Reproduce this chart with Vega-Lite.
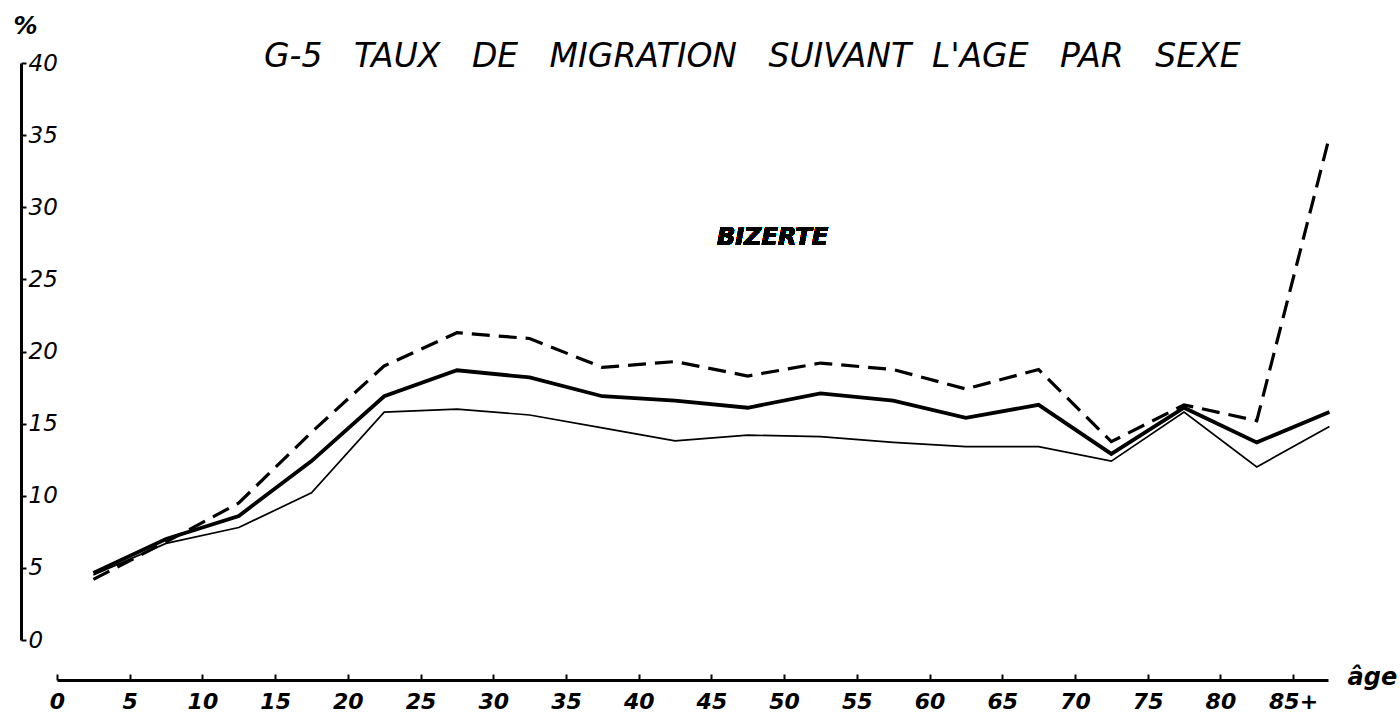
{
  "$schema": "https://vega.github.io/schema/vega-lite/v6.json",
  "autosize": {"type": "none"},
  "width": 1271,
  "height": 577,
  "padding": {"left": 57, "top": 63, "right": 72, "bottom": 73},
  "background": "white",
  "config": {"view": {"stroke": null}},
  "title": {
    "text": "G-5 \u00a0\u00a0TAUX \u00a0\u00a0DE \u00a0\u00a0MIGRATION \u00a0\u00a0SUIVANT \u00a0L'AGE \u00a0\u00a0PAR \u00a0\u00a0SEXE",
    "anchor": "start",
    "dx": 251,
    "dy": 64,
    "font": "DejaVu Sans",
    "fontSize": 33,
    "fontStyle": "italic",
    "fontWeight": "normal",
    "color": "black"
  },
  "data": {"values": [
    {"age": 2.5, "serie": "Femmes", "taux": 4.2},
    {"age": 7.5, "serie": "Femmes", "taux": 6.8},
    {"age": 12.5, "serie": "Femmes", "taux": 9.5},
    {"age": 17.5, "serie": "Femmes", "taux": 14.4},
    {"age": 22.5, "serie": "Femmes", "taux": 19.0},
    {"age": 27.5, "serie": "Femmes", "taux": 21.3},
    {"age": 32.5, "serie": "Femmes", "taux": 20.9},
    {"age": 37.5, "serie": "Femmes", "taux": 18.9},
    {"age": 42.5, "serie": "Femmes", "taux": 19.3},
    {"age": 47.5, "serie": "Femmes", "taux": 18.3},
    {"age": 52.5, "serie": "Femmes", "taux": 19.2},
    {"age": 57.5, "serie": "Femmes", "taux": 18.75},
    {"age": 62.5, "serie": "Femmes", "taux": 17.4},
    {"age": 67.5, "serie": "Femmes", "taux": 18.75},
    {"age": 72.5, "serie": "Femmes", "taux": 13.75},
    {"age": 77.5, "serie": "Femmes", "taux": 16.3},
    {"age": 82.5, "serie": "Femmes", "taux": 15.2},
    {"age": 87.5, "serie": "Femmes", "taux": 34.9},
    {"age": 2.5, "serie": "Hommes", "taux": 4.5},
    {"age": 7.5, "serie": "Hommes", "taux": 6.7},
    {"age": 12.5, "serie": "Hommes", "taux": 7.8},
    {"age": 17.5, "serie": "Hommes", "taux": 10.2},
    {"age": 22.5, "serie": "Hommes", "taux": 15.8},
    {"age": 27.5, "serie": "Hommes", "taux": 16.0},
    {"age": 32.5, "serie": "Hommes", "taux": 15.6},
    {"age": 37.5, "serie": "Hommes", "taux": 14.7},
    {"age": 42.5, "serie": "Hommes", "taux": 13.8},
    {"age": 47.5, "serie": "Hommes", "taux": 14.2},
    {"age": 52.5, "serie": "Hommes", "taux": 14.1},
    {"age": 57.5, "serie": "Hommes", "taux": 13.7},
    {"age": 62.5, "serie": "Hommes", "taux": 13.4},
    {"age": 67.5, "serie": "Hommes", "taux": 13.4},
    {"age": 72.5, "serie": "Hommes", "taux": 12.4},
    {"age": 77.5, "serie": "Hommes", "taux": 15.8},
    {"age": 82.5, "serie": "Hommes", "taux": 12.0},
    {"age": 87.5, "serie": "Hommes", "taux": 14.8},
    {"age": 2.5, "serie": "Ensemble", "taux": 4.65},
    {"age": 7.5, "serie": "Ensemble", "taux": 7.0},
    {"age": 12.5, "serie": "Ensemble", "taux": 8.6},
    {"age": 17.5, "serie": "Ensemble", "taux": 12.4},
    {"age": 22.5, "serie": "Ensemble", "taux": 16.9},
    {"age": 27.5, "serie": "Ensemble", "taux": 18.7},
    {"age": 32.5, "serie": "Ensemble", "taux": 18.2},
    {"age": 37.5, "serie": "Ensemble", "taux": 16.9},
    {"age": 42.5, "serie": "Ensemble", "taux": 16.6},
    {"age": 47.5, "serie": "Ensemble", "taux": 16.1},
    {"age": 52.5, "serie": "Ensemble", "taux": 17.1},
    {"age": 57.5, "serie": "Ensemble", "taux": 16.6},
    {"age": 62.5, "serie": "Ensemble", "taux": 15.4},
    {"age": 67.5, "serie": "Ensemble", "taux": 16.3},
    {"age": 72.5, "serie": "Ensemble", "taux": 12.9},
    {"age": 77.5, "serie": "Ensemble", "taux": 16.1},
    {"age": 82.5, "serie": "Ensemble", "taux": 13.7},
    {"age": 87.5, "serie": "Ensemble", "taux": 15.8}
  ]},
  "encoding": {
    "x": {
      "field": "age", "type": "quantitative",
      "scale": {"domain": [0, 87.4], "nice": false, "zero": false},
      "axis": {
        "title": "âge",
        "titleAngle": 0,
        "titleAlign": "left",
        "titleBaseline": "alphabetic",
        "titleX": 1290,
        "titleY": 4,
        "titleFont": "DejaVu Sans",
        "titleFontSize": 24,
        "titleFontStyle": "italic",
        "titleFontWeight": "bold",
        "titleColor": "black",
        "offset": 40,
        "values": [0, 5, 10, 15, 20, 25, 30, 35, 40, 45, 50, 55, 60, 65, 70, 75, 80, 85],
        "labelExpr": "datum.value == 85 ? '85+' : datum.label",
        "labelFont": "DejaVu Sans",
        "labelFontSize": 22,
        "labelFontStyle": "italic",
        "labelFontWeight": "bold",
        "labelColor": "black",
        "labelPadding": 17,
        "labelFlush": false,
        "labelOverlap": false,
        "tickSize": -6,
        "tickWidth": 2,
        "tickColor": "black",
        "domainColor": "black",
        "domainWidth": 3,
        "grid": false
      }
    },
    "y": {
      "field": "taux", "type": "quantitative",
      "scale": {"domain": [0, 40], "nice": false},
      "axis": {
        "title": "%",
        "titleAngle": 0,
        "titleAlign": "left",
        "titleBaseline": "alphabetic",
        "titleX": -8,
        "titleY": -30,
        "titleFont": "DejaVu Sans",
        "titleFontSize": 24,
        "titleFontStyle": "italic",
        "titleFontWeight": "bold",
        "titleColor": "black",
        "offset": 36,
        "values": [0, 5, 10, 15, 20, 25, 30, 35, 40],
        "labelFont": "DejaVu Sans",
        "labelFontSize": 23,
        "labelFontStyle": "italic",
        "labelFontWeight": "normal",
        "labelColor": "black",
        "labelAlign": "left",
        "labelPadding": -2,
        "labelFlush": false,
        "labelOverlap": false,
        "tickSize": -5,
        "tickWidth": 2,
        "tickColor": "black",
        "domainColor": "black",
        "domainWidth": 3,
        "grid": false
      }
    },
    "order": {"field": "age"}
  },
  "layer": [
    {
      "transform": [{"filter": "datum.serie == 'Femmes'"}],
      "mark": {"type": "line", "color": "black", "strokeWidth": 3.2, "strokeDash": [18, 9], "strokeCap": "butt", "clip": false}
    },
    {
      "transform": [{"filter": "datum.serie == 'Hommes'"}],
      "mark": {"type": "line", "color": "black", "strokeWidth": 1.7, "clip": false}
    },
    {
      "transform": [{"filter": "datum.serie == 'Ensemble'"}],
      "mark": {"type": "line", "color": "black", "strokeWidth": 3.8, "clip": false}
    },
    {
      "mark": {"type": "text", "text": "BIZERTE", "font": "DejaVu Sans", "fontSize": 24, "fontWeight": "bold", "fontStyle": "italic", "align": "center", "baseline": "middle", "color": "black"},
      "encoding": {
        "x": {"datum": 49.2, "type": "quantitative"},
        "y": {"datum": 27.9, "type": "quantitative"},
        "order": null
      }
    }
  ]
}
